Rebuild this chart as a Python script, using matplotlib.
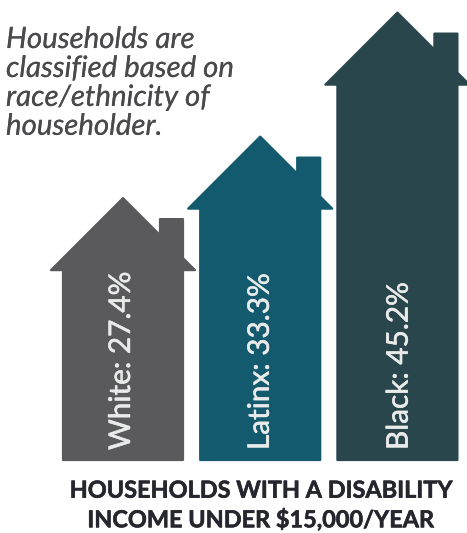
import matplotlib
matplotlib.use("Agg")
import matplotlib.pyplot as plt
import matplotlib.patheffects as pe
from matplotlib.path import Path
from matplotlib.patches import PathPatch

groups = ["White", "Latinx", "Black"]
shares = [27.4, 33.3, 45.2]
colors = ["#5a595b", "#135a6e", "#2a464d"]

note = "Households are\nclassified based on\nrace/ethnicity of\nhouseholder."
caption = "HOUSEHOLDS WITH A DISABILITY\nINCOME UNDER $15,000/YEAR"

W, H = 467, 533
BASE_PX = 461       # ground line, px from the top
PX_PER_PCT = 10.42
BASE_PCT = 2.17     # the house scale does not start at zero
FIRST_X = 123
STEP = 137.2

plt.rcParams["font.family"] = ["Lato", "DejaVu Sans"]

fig = plt.figure(figsize=(W / 100, H / 100), dpi=100)
ax = fig.add_axes([0, 0, 1, 1])
ax.set_xlim(-FIRST_X / STEP, (W - FIRST_X) / STEP)
ax.set_ylim(BASE_PCT - (H - BASE_PX) / PX_PER_PCT, BASE_PCT + BASE_PX / PX_PER_PCT)
ax.axis("off")


def house(ax, i, value, color):
    # outline in px offsets from the roof peak, scaled to data units
    def pt(dx, dy):
        return (i + dx / STEP, value - dy / PX_PER_PCT)

    ground = (value - BASE_PCT) * PX_PER_PCT
    outline = [
        (0, 0), (37, 37), (37, 21), (60, 21), (60, 60), (72, 72),
        (60, 72), (60, ground - 1), (-60, ground - 1), (-60, 72), (-72, 72),
        (0, 0),
    ]
    verts = [pt(dx, dy) for dx, dy in outline]
    codes = [Path.MOVETO] + [Path.LINETO] * (len(verts) - 2) + [Path.CLOSEPOLY]
    ax.add_patch(PathPatch(Path(verts, codes), facecolor=color, edgecolor=color,
                           linewidth=1.6, joinstyle="round"))


# thin stroke so the regular weight reads a little heavier
heavier = lambda c, w: [pe.withStroke(linewidth=w, foreground=c)]

for i, (group, share, color) in enumerate(zip(groups, shares, colors)):
    house(ax, i, share, color)
    ax.text(i - 0.015 + 0.012 * i, BASE_PCT + 11 / PX_PER_PCT, f"{group}: {share}%",
            rotation=90, ha="center", va="bottom", color="#e9eaea", fontsize=21.4,
            path_effects=heavier("#e9eaea", 0.4))

fig.text(6 / W, 1 - 27 / H, note, ha="left", va="top", style="italic",
         color="#4a4a4c", fontsize=21.2, linespacing=1.14,
         path_effects=heavier("#4a4a4c", 0.1))
fig.text(261 / W, 1 - 506 / H, caption, ha="center", va="center", weight="bold",
         color="#26262e", fontsize=16.9, linespacing=1.4,
         path_effects=heavier("#26262e", 0.4))

fig.savefig("out.png", dpi=100)
